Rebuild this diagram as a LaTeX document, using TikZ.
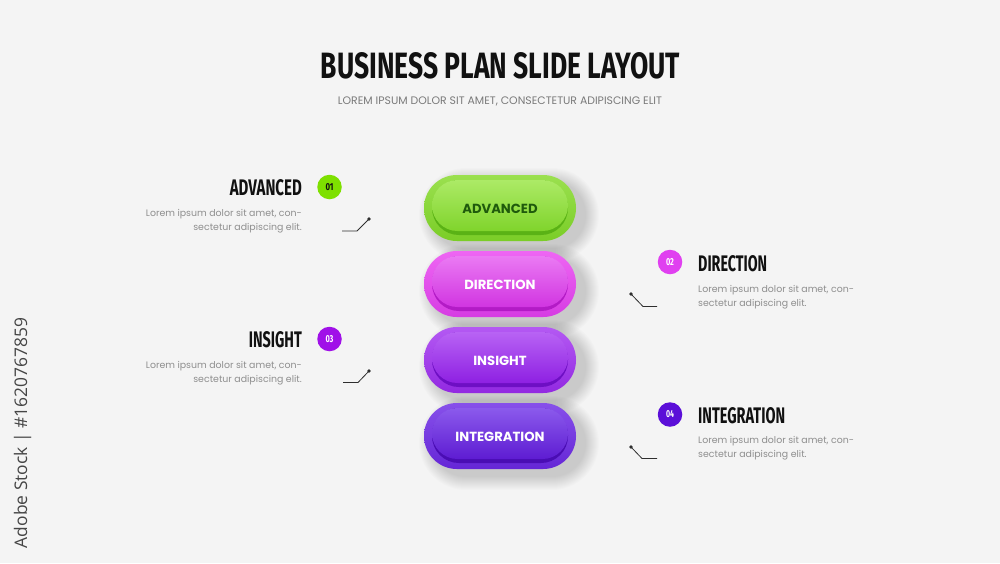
\documentclass[tikz,border=0pt]{standalone}
\usepackage{fontspec}
\usepackage{graphicx}
\setmainfont{Poppins}
\newfontfamily\headfont{Fira Sans}
\newfontfamily\wmfont{Open Sans}
\definecolor{bg}{HTML}{F4F4F4}
\definecolor{headc}{HTML}{111111}
\definecolor{bodyc}{HTML}{8E8E8E}
\definecolor{subc}{HTML}{7A7A7A}
\definecolor{linec}{HTML}{2E2E2E}
\definecolor{wmc}{HTML}{454545}
% green
\definecolor{gRimT}{HTML}{9BE04F}\definecolor{gRimB}{HTML}{7ACD27}
\definecolor{gDark}{HTML}{5AB215}\definecolor{gInT}{HTML}{ACEA66}
\definecolor{gInM}{HTML}{8ADA38}\definecolor{gInB}{HTML}{80D42C}
\definecolor{gText}{HTML}{1F5A0C}\definecolor{gNum}{HTML}{7EE000}
% magenta
\definecolor{mRimT}{HTML}{EE66F3}\definecolor{mRimB}{HTML}{D63CE3}
\definecolor{mDark}{HTML}{B31BC6}\definecolor{mInT}{HTML}{EA7AF3}
\definecolor{mInM}{HTML}{DB45E9}\definecolor{mInB}{HTML}{D135E1}
\definecolor{mNum}{HTML}{E040F0}
% purple
\definecolor{pRimT}{HTML}{B459F3}\definecolor{pRimB}{HTML}{9229E1}
\definecolor{pDark}{HTML}{6E0FC4}\definecolor{pInT}{HTML}{B863F4}
\definecolor{pInM}{HTML}{9A2CEA}\definecolor{pInB}{HTML}{8E20E2}
\definecolor{pNum}{HTML}{A010E8}
% indigo
\definecolor{iRimT}{HTML}{8750EA}\definecolor{iRimB}{HTML}{6526D6}
\definecolor{iDark}{HTML}{4A0DB4}\definecolor{iInT}{HTML}{8B5AEC}
\definecolor{iInM}{HTML}{6828DB}\definecolor{iInB}{HTML}{5E1CD2}
\definecolor{iNum}{HTML}{5B0FD8}

\newcommand\fitbox[3]{\resizebox{#1pt}{#2pt}{\headfont\bfseries #3}}
\newcommand\pillshadow[1]{%
  \foreach \s in {1,...,14}{%
    \fill[black, opacity=0.011, rounded corners={33pt+\s pt}]
      ({424+9-\s},{#1-33+7-\s}) rectangle ({576+9+\s},{#1+33+7+\s});}}
\newcommand\drawpill[7]{% #1 yc, #2 rim top, #3 rim bottom, #4 dark band, #5 inner top, #6 inner mid, #7 inner bottom
  \shade[top color=#2, bottom color=#3, rounded corners=32.9pt] (424,{#1-33}) rectangle (576,{#1+33});
  \fill[#4, rounded corners=27pt] (432,{#1-28}) rectangle (568,{#1+27});
  \shade[top color=#5, middle color=#6, bottom color=#7, rounded corners=25.5pt] (432,{#1-28}) rectangle (568,{#1+23});
}

\begin{document}
\begin{tikzpicture}[x=1pt,y=-1pt,
  heading/.style={inner sep=0pt, text=headc},
  bodytext/.style={inner sep=0pt, text=bodyc, font=\fontsize{9.4}{12}\selectfont},
  numcircle/.style={circle, inner sep=0pt, minimum size=24.5pt},
  link/.style={draw=linec, line width=0.8pt},
  linkdot/.style={circle, fill=linec, inner sep=0pt, minimum size=3.8pt},
  pilltext/.style={inner sep=0pt, font=\bfseries\fontsize{13.2}{13.2}\selectfont}
]
\fill[bg] (0,0) rectangle (1000,563);
\useasboundingbox (0,0) rectangle (1000,563);

% title
\node[heading, anchor=base] (title) at (500.5,78) {\fitbox{359}{26}{BUSINESS PLAN SLIDE LAYOUT}};
\node[inner sep=0pt, anchor=base, text=subc] (subtitle) at (500,104)
  {\resizebox{324pt}{!}{LOREM IPSUM DOLOR SIT AMET, CONSECTETUR ADIPISCING ELIT}};

% watermark
\node[inner sep=0pt, anchor=base, rotate=90, text=wmc] (wm) at (27,433)
  {\resizebox{230pt}{!}{\wmfont Adobe Stock | \#1620767859}};

% pills
\pillshadow{208}\pillshadow{284}\pillshadow{360}\pillshadow{436}
\drawpill{208}{gRimT}{gRimB}{gDark}{gInT}{gInM}{gInB}
\drawpill{284}{mRimT}{mRimB}{mDark}{mInT}{mInM}{mInB}
\drawpill{360}{pRimT}{pRimB}{pDark}{pInT}{pInM}{pInB}
\drawpill{436}{iRimT}{iRimB}{iDark}{iInT}{iInM}{iInB}
\node[pilltext, text=gText] (p1) at (500,208.5) {ADVANCED};
\node[pilltext, text=white] (p2) at (500,284.5) {DIRECTION};
\node[pilltext, text=white] (p3) at (500,360.5) {INSIGHT};
\node[pilltext, text=white] (p4) at (500,436.5) {INTEGRATION};

% item 01 (left)
\node[heading, anchor=base east] (h1) at (302,195) {\fitbox{72}{16}{ADVANCED}};
\node[numcircle, fill=gNum] (n1) at (329.5,187) {\resizebox{8pt}{7pt}{\headfont\bfseries\color{headc}01}};
\node[bodytext, anchor=base east] (b1a) at (302,216) {Lorem ipsum dolor sit amet, con-};
\node[bodytext, anchor=base east] (b1b) at (302,230) {sectetur adipiscing elit.};
\node[linkdot] (d1) at (369,219) {};
\coordinate (k1) at (357,231);
\coordinate (e1) at (342,231);
\draw[link] (d1.center) -- (k1) -- (e1);

% item 02 (right)
\node[heading, anchor=base west] (h2) at (698,271) {\fitbox{69}{16}{DIRECTION}};
\node[numcircle, fill=mNum] (n2) at (670,262) {\resizebox{8pt}{7pt}{\headfont\bfseries\color{white}02}};
\node[bodytext, anchor=base west] (b2a) at (698,292) {Lorem ipsum dolor sit amet, con-};
\node[bodytext, anchor=base west] (b2b) at (698,306) {sectetur adipiscing elit.};
\node[linkdot] (d2) at (631,294) {};
\coordinate (k2) at (643,306.5);
\coordinate (e2) at (657,306.5);
\draw[link] (d2.center) -- (k2) -- (e2);

% item 03 (left)
\node[heading, anchor=base east] (h3) at (302,347) {\fitbox{53}{16}{INSIGHT}};
\node[numcircle, fill=pNum] (n3) at (329.5,339) {\resizebox{8pt}{7pt}{\headfont\bfseries\color{white}03}};
\node[bodytext, anchor=base east] (b3a) at (302,368) {Lorem ipsum dolor sit amet, con-};
\node[bodytext, anchor=base east] (b3b) at (302,382) {sectetur adipiscing elit.};
\node[linkdot] (d3) at (369,371) {};
\coordinate (k3) at (358,382.5);
\coordinate (e3) at (343,382.5);
\draw[link] (d3.center) -- (k3) -- (e3);

% item 04 (right)
\node[heading, anchor=base west] (h4) at (698,423) {\fitbox{87}{16}{INTEGRATION}};
\node[numcircle, fill=iNum] (n4) at (670,414.5) {\resizebox{8pt}{7pt}{\headfont\bfseries\color{white}04}};
\node[bodytext, anchor=base west] (b4a) at (698,443) {Lorem ipsum dolor sit amet, con-};
\node[bodytext, anchor=base west] (b4b) at (698,457) {sectetur adipiscing elit.};
\node[linkdot] (d4) at (631,447) {};
\coordinate (k4) at (642,458.5);
\coordinate (e4) at (657,458.5);
\draw[link] (d4.center) -- (k4) -- (e4);
\end{tikzpicture}
\end{document}
